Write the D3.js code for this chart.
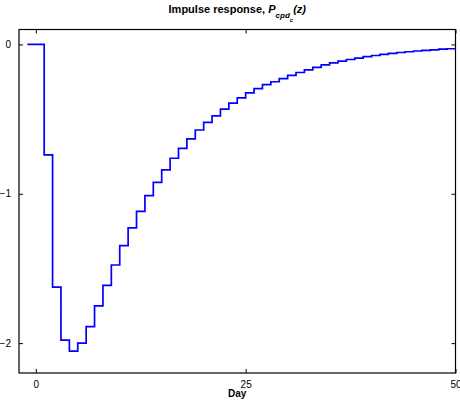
<!DOCTYPE html>
<html>
<head>
<meta charset="utf-8">
<script src="https://cdn.jsdelivr.net/npm/d3@7/dist/d3.min.js"></script>
<style>
  html, body { margin: 0; padding: 0; background: #fff; }
  svg { display: block; font-family: "Liberation Sans", Arial, Helvetica, sans-serif; }
</style>
</head>
<body>
<svg id="chart" width="460" height="406"></svg>
<script>
// Impulse response, one value per day (stairs plot)
const days = d3.range(-1, 51);
const response = [
  0, 0, -0.74, -1.625, -1.98, -2.053, -2.0, -1.889, -1.75, -1.613,
  -1.477, -1.347, -1.228, -1.118, -1.013, -0.924, -0.84, -0.762, -0.696, -0.633,
  -0.573, -0.522, -0.478, -0.433, -0.393, -0.358, -0.324, -0.296, -0.269, -0.25,
  -0.229, -0.207, -0.188, -0.170, -0.153, -0.137, -0.124, -0.112, -0.101, -0.091,
  -0.082, -0.074, -0.067, -0.060, -0.054, -0.049, -0.044, -0.040, -0.036, -0.032,
  -0.029, -0.029
];
const xTicks = [0, 25, 50];
const yTicks = [0, -1, -2];
const xDomain = [-2, 50];
const yDomain = [-2.2, 0.1];

const svg = d3.select("#chart");
const box = { left: 19, right: 455.5, top: 29.5, bottom: 373 };

const x = d3.scaleLinear().domain(xDomain).range([box.left, box.right]);
const y = d3.scaleLinear().domain(yDomain).range([box.bottom, box.top]);

const fmt = d => (d < 0 ? "\u2212" + Math.abs(d) : String(d));
const tickLen = 4;

// ticks pointing inward on all four sides
const gAxes = svg.append("g");
gAxes.append("g")
  .attr("transform", `translate(0,${box.bottom})`)
  .call(d3.axisBottom(x).tickValues(xTicks).tickSizeInner(-tickLen).tickSizeOuter(0).tickPadding(8).tickFormat(fmt));
gAxes.append("g")
  .attr("transform", `translate(0,${box.top})`)
  .call(d3.axisTop(x).tickValues(xTicks).tickSizeInner(-tickLen).tickSizeOuter(0).tickFormat(""));
gAxes.append("g")
  .attr("transform", `translate(${box.left},0)`)
  .call(d3.axisLeft(y).tickValues(yTicks).tickSizeInner(-tickLen).tickSizeOuter(0).tickPadding(8).tickFormat(fmt));
gAxes.append("g")
  .attr("transform", `translate(${box.right},0)`)
  .call(d3.axisRight(y).tickValues(yTicks).tickSizeInner(-tickLen).tickSizeOuter(0).tickFormat(""));

gAxes.selectAll(".domain").remove();
gAxes.selectAll(".tick line").attr("stroke", "#000").attr("stroke-width", 1);
gAxes.selectAll(".tick text").attr("fill", "#000").style("font-size", "10px");

// stairs line
const line = d3.line()
  .x((d, i) => x(days[i]))
  .y(d => y(d))
  .curve(d3.curveStepAfter);

svg.append("path")
  .datum(response)
  .attr("d", line)
  .attr("fill", "none")
  .attr("stroke", "#0000ff")
  .attr("stroke-width", 1.7);

// axes frame
svg.append("rect")
  .attr("x", box.left).attr("y", box.top)
  .attr("width", box.right - box.left).attr("height", box.bottom - box.top)
  .attr("fill", "none").attr("stroke", "#000").attr("stroke-width", 1.2);

// x label
svg.append("text")
  .attr("x", (box.left + box.right) / 2).attr("y", 397)
  .attr("text-anchor", "middle")
  .style("font-size", "10px").style("font-weight", "bold")
  .text("Day");

// title with nested subscripts
const title = svg.append("text")
  .attr("x", (box.left + box.right) / 2).attr("y", 13)
  .attr("text-anchor", "middle")
  .style("font-size", "11px").style("font-weight", "bold");
title.append("tspan").text("Impulse response, ");
title.append("tspan").style("font-style", "italic").text("P");
title.append("tspan").attr("dy", 5).style("font-style", "italic").style("font-size", "8px").text("cpd");
title.append("tspan").attr("dy", 4).style("font-style", "italic").style("font-size", "6px").text("c");
title.append("tspan").attr("dy", -9).style("font-style", "italic").text("(z)");
</script>
</body>
</html>
